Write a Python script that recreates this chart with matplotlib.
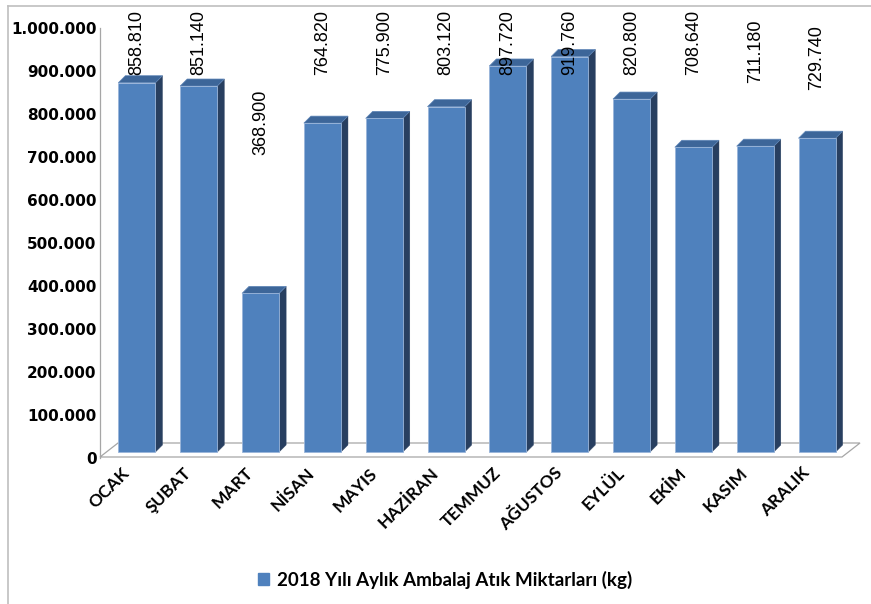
import matplotlib
matplotlib.use("Agg")
import matplotlib.pyplot as plt
from matplotlib.patches import Polygon, Patch
from matplotlib.lines import Line2D
from matplotlib.transforms import ScaledTranslation

# ---- data ----
months = ["OCAK", "ŞUBAT", "MART", "NİSAN", "MAYIS", "HAZİRAN",
          "TEMMUZ", "AĞUSTOS", "EYLÜL", "EKİM", "KASIM", "ARALIK"]
values = [858810, 851140, 368900, 764820, 775900, 803120,
          897720, 919760, 820800, 708640, 711180, 729740]
series_name = "2018 Yılı Aylık Ambalaj Atık Miktarları (kg)"
yticks = [0, 100000, 200000, 300000, 400000, 500000,
          600000, 700000, 800000, 900000, 1000000]
# vertical anchor (data units) of the rotated value labels
label_base = [876700, 876700, 690700, 876700, 876700, 876700,
              876700, 876700, 876700, 876700, 858100, 841900]

FRONT = "#4F81BD"
SIDE = "#283F60"
TOP = "#3D6699"

W, H, DPI = 871, 604, 100
fig = plt.figure(figsize=(W / DPI, H / DPI), dpi=DPI)
ax = fig.add_axes([100 / W, (H - 458) / H, 742 / W, 430 / H])
ax.set_xlim(-0.5, len(months) - 0.5)
ax.set_ylim(0, 1000000)
ax.patch.set_alpha(0)

# px per data unit
px_x = 742 / len(months)
px_y = 430 / 1000000.0

# offset transform for bars (they sit a bit behind the front plane)
T = ax.transData + ScaledTranslation(6 / DPI, 6 / DPI, fig.dpi_scale_trans)

# floor (drawn in data coordinates with depth offsets)
fdx = 18 / px_x
fdy = 14 / px_y
x0, x1 = -0.5, len(months) - 0.5
floor = Polygon([(x0, 0), (x1, 0), (x1 + fdx, fdy), (x0 + fdx, fdy)],
                closed=True, facecolor="white", edgecolor="#A6A6A6",
                lw=0.9, transform=ax.transData + ScaledTranslation(0, 1 / DPI, fig.dpi_scale_trans),
                clip_on=False, zorder=1)
ax.add_patch(floor)

bw = 0.6
ddx = 7 / px_x
ddy = 7 / px_y
bars = ax.bar(range(len(months)), values, width=bw, color=FRONT,
              edgecolor="#9AB5DA", linewidth=0.6, transform=T,
              zorder=3, label=series_name, clip_on=False)
for i, v in enumerate(values):
    l, r = i - bw / 2, i + bw / 2
    side = Polygon([(r, 0), (r + ddx, ddy), (r + ddx, v + ddy), (r, v)],
                   closed=True, facecolor=SIDE, edgecolor=SIDE, lw=0.3,
                   transform=T, zorder=2, clip_on=False)
    top = Polygon([(l, v), (r, v), (r + ddx, v + ddy), (l + ddx, v + ddy)],
                  closed=True, facecolor=TOP, edgecolor="#5F86B8", lw=0.5,
                  transform=T, zorder=2, clip_on=False)
    ax.add_patch(side)
    ax.add_patch(top)
    ax.text(i, label_base[i], f"{v:,}".replace(",", "."), rotation=90,
            ha="center", va="bottom", fontsize=13,
            family="Liberation Sans", color="black", transform=T,
            zorder=5, clip_on=False)

# axes styling
for s in ["top", "right", "bottom"]:
    ax.spines[s].set_visible(False)
ax.spines["left"].set_color("#A6A6A6")
ax.spines["left"].set_linewidth(0.9)

ax.set_yticks(yticks)
ax.set_yticklabels([f"{t:,}".replace(",", ".") for t in yticks],
                   fontsize=11, fontweight="bold", family="DejaVu Sans")
ax.tick_params(axis="y", length=0, pad=2.5)

ax.set_xticks(range(len(months)))
ax.set_xticklabels(months, rotation=45, ha="right", va="center",
                   rotation_mode="anchor",
                   fontsize=12.5, fontweight="bold", family="Lato")
ax.tick_params(axis="x", length=0, pad=9)
shift = ScaledTranslation(-4 / DPI, 0, fig.dpi_scale_trans)
for lab in ax.get_xticklabels():
    lab.set_transform(lab.get_transform() + shift)

# legend
leg = fig.legend(handles=[Patch(facecolor=FRONT, edgecolor=FRONT)],
                 labels=[series_name], loc="center",
                 bbox_to_anchor=(445 / W, 1 - 580 / H), frameon=False,
                 handlelength=0.6, handleheight=0.6, handletextpad=0.4,
                 prop={"family": "Lato", "weight": "bold", "size": 13.5})

# chart area border (left and top)
fig.add_artist(Line2D([8 / W, 8 / W], [0, 1 - 6 / H], color="#BFBFBF", lw=1.2))
fig.add_artist(Line2D([8 / W, 1], [1 - 6 / H, 1 - 6 / H], color="#BFBFBF", lw=1.2))

fig.savefig("out.png", dpi=DPI)
